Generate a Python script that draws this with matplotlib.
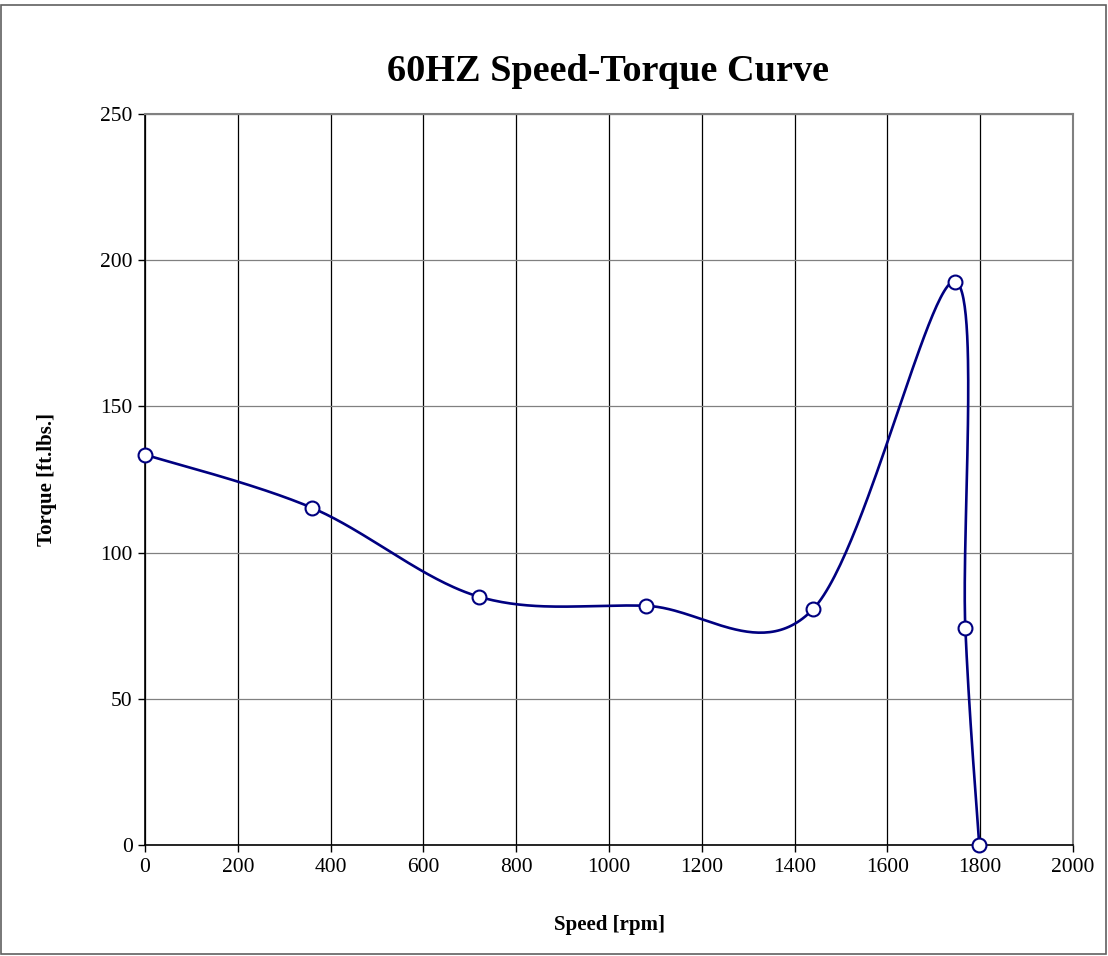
import numpy as np
from matplotlib import pyplot as plt
from matplotlib.patches import Rectangle

speed = [0, 360, 720, 1080, 1440, 1745, 1768, 1798]
torque = [133.5, 115.3, 84.9, 81.8, 80.7, 192.7, 74.2, 0]

plt.rcParams['font.family'] = ['Liberation Serif', 'DejaVu Serif']

fig = plt.figure(figsize=(11.08, 9.56), dpi=100)
ax = fig.add_axes([0.1309, 0.1161, 0.8375, 0.7647])
ax.set_xlim(0, 2000)
ax.set_ylim(0, 250)
ax.set_xticks(range(0, 2001, 200))
ax.set_yticks(range(0, 251, 50))

# excel-style smoothed line, built in display space
pts = ax.transData.transform(np.column_stack([speed, torque]))
P = np.vstack([pts[0], pts, pts[-1]])
curve = []
t = np.linspace(0, 1, 60)[:, None]
for i in range(1, len(P) - 2):
    p0, p1, p2, p3 = P[i - 1], P[i], P[i + 1], P[i + 2]
    d12 = np.linalg.norm(p2 - p1)
    a = p2 - p0
    b = p3 - p1
    f1 = min(1 / 6, d12 / 2 / max(np.linalg.norm(a), 1e-9))
    f2 = min(1 / 6, d12 / 2 / max(np.linalg.norm(b), 1e-9))
    c1 = p1 + a * f1
    c2 = p2 - b * f2
    seg = (1 - t) ** 3 * p1 + 3 * (1 - t) ** 2 * t * c1 + 3 * (1 - t) * t ** 2 * c2 + t ** 3 * p2
    curve.append(seg)
curve = ax.transData.inverted().transform(np.vstack(curve))

ax.plot(curve[:, 0], curve[:, 1], color='#000080', lw=1.9, zorder=3, clip_on=False)
ax.plot(speed, torque, 'o', ms=10, mfc='white', mec='#000080', mew=1.5, zorder=4, clip_on=False)

ax.grid(axis='x', color='black', lw=0.9)
ax.grid(axis='y', color='#808080', lw=0.9)
ax.set_axisbelow(True)
ax.spines['top'].set_color('#808080')
ax.spines['right'].set_color('#808080')
ax.spines['top'].set_linewidth(1.5)
ax.spines['right'].set_linewidth(1.5)
ax.spines['left'].set_linewidth(1.2)
ax.spines['bottom'].set_linewidth(1.2)
ax.tick_params(direction='out', length=5, width=1, labelsize=15.5, pad=4)

ax.set_xlabel('Speed [rpm]', fontsize=15, fontweight='bold', labelpad=28)
ax.set_ylabel('Torque [ft.lbs.]', fontsize=15, fontweight='bold', labelpad=31)
fig.text(0.549, 0.925, '60HZ Speed-Torque Curve', ha='center', va='center',
         fontsize=27.5, fontweight='bold')

fig.patches.append(Rectangle((0.001, 0.002), 0.997, 0.993, transform=fig.transFigure,
                             fill=False, edgecolor='#606060', lw=1.2))

plt.savefig('out.png', dpi=100)
